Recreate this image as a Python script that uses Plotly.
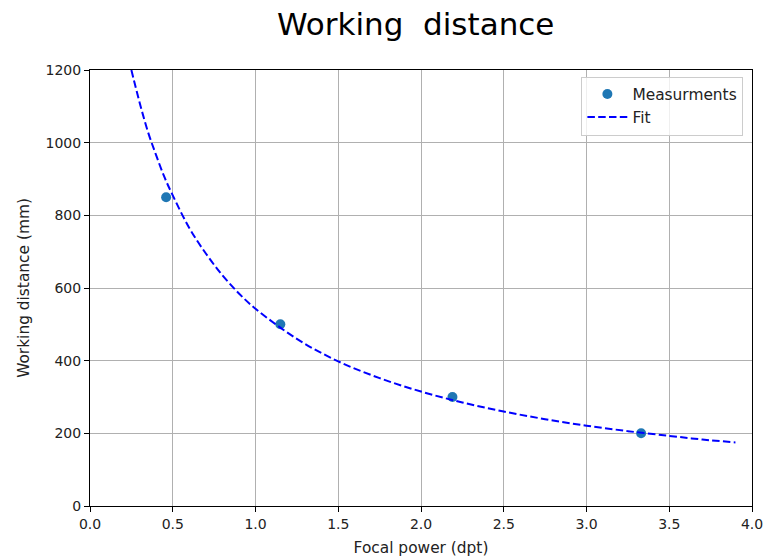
import plotly.graph_objects as go

# Measurements
meas_x = [0.46, 1.15, 2.19, 3.33]
meas_y = [850, 500, 300, 200]

# Fit curve, values
fit_x = [0.25, 0.30, 0.35, 0.40, 0.45, 0.50, 0.60, 0.70, 0.80, 0.90, 1.00,
         1.25, 1.50, 1.75, 2.00, 2.25, 2.50, 2.75, 3.00, 3.25, 3.50, 3.70, 3.90]
fit_y = [1200, 1110, 1030, 965, 905, 855, 765, 695, 635, 585, 543,
         460, 398, 352, 315, 285, 260, 239, 221, 206, 193, 183, 175]

x_ticks = [0.0, 0.5, 1.0, 1.5, 2.0, 2.5, 3.0, 3.5, 4.0]
y_ticks = [0, 200, 400, 600, 800, 1000, 1200]

font = "DejaVu Sans"

fig = go.Figure()
fig.add_trace(go.Scatter(
    x=meas_x, y=meas_y, mode="markers", name="Measurments",
    marker=dict(color="#1f77b4", size=10),
))
fig.add_trace(go.Scatter(
    x=fit_x, y=fit_y, mode="lines", name="Fit",
    line=dict(color="blue", width=2, dash="7.5px,3.3px", shape="spline", smoothing=1),
))

axis_common = dict(
    showgrid=True, gridcolor="#b0b0b0", gridwidth=1,
    showline=True, linecolor="black", linewidth=1, mirror=True,
    ticks="outside", ticklen=5, tickcolor="black", tickwidth=1,
    zeroline=False, automargin=False, ticklabeloverflow="allow",
    tickfont=dict(family=font, size=14, color="#222"),
)

fig.update_layout(
    width=763, height=558,
    paper_bgcolor="white", plot_bgcolor="white",
    margin=dict(l=90, r=11, t=70, b=52),
    title=dict(text="Working\u00a0 distance", x=0.492, xref="paper", xanchor="center",
               y=1 - 24 / 558, yref="container", yanchor="middle",
               font=dict(family=font, size=31, color="black")),
    xaxis=dict(range=[0, 4], tickvals=x_ticks,
               ticktext=[f"{v:.1f}" for v in x_ticks],
               title=dict(text="Focal power (dpt)", standoff=11,
                          font=dict(family=font, size=15.4, color="#222")),
               **axis_common),
    yaxis=dict(range=[0, 1200], tickvals=y_ticks,
               ticktext=[str(v) for v in y_ticks],
               title=dict(text="Working distance (mm)", standoff=12,
                          font=dict(family=font, size=15.4, color="#222")),
               **axis_common),
    legend=dict(x=0.987, y=0.985, xanchor="right", yanchor="top",
                bgcolor="rgba(255,255,255,0.8)", bordercolor="#cccccc", borderwidth=1,
                font=dict(family=font, size=15.4, color="#222"),
                itemwidth=40, tracegroupgap=0),
    showlegend=True,
)

fig.write_html("out.html",
               config={"displayModeBar": False},
               post_script="document.body.style.margin='0';document.body.style.overflow='hidden';")
